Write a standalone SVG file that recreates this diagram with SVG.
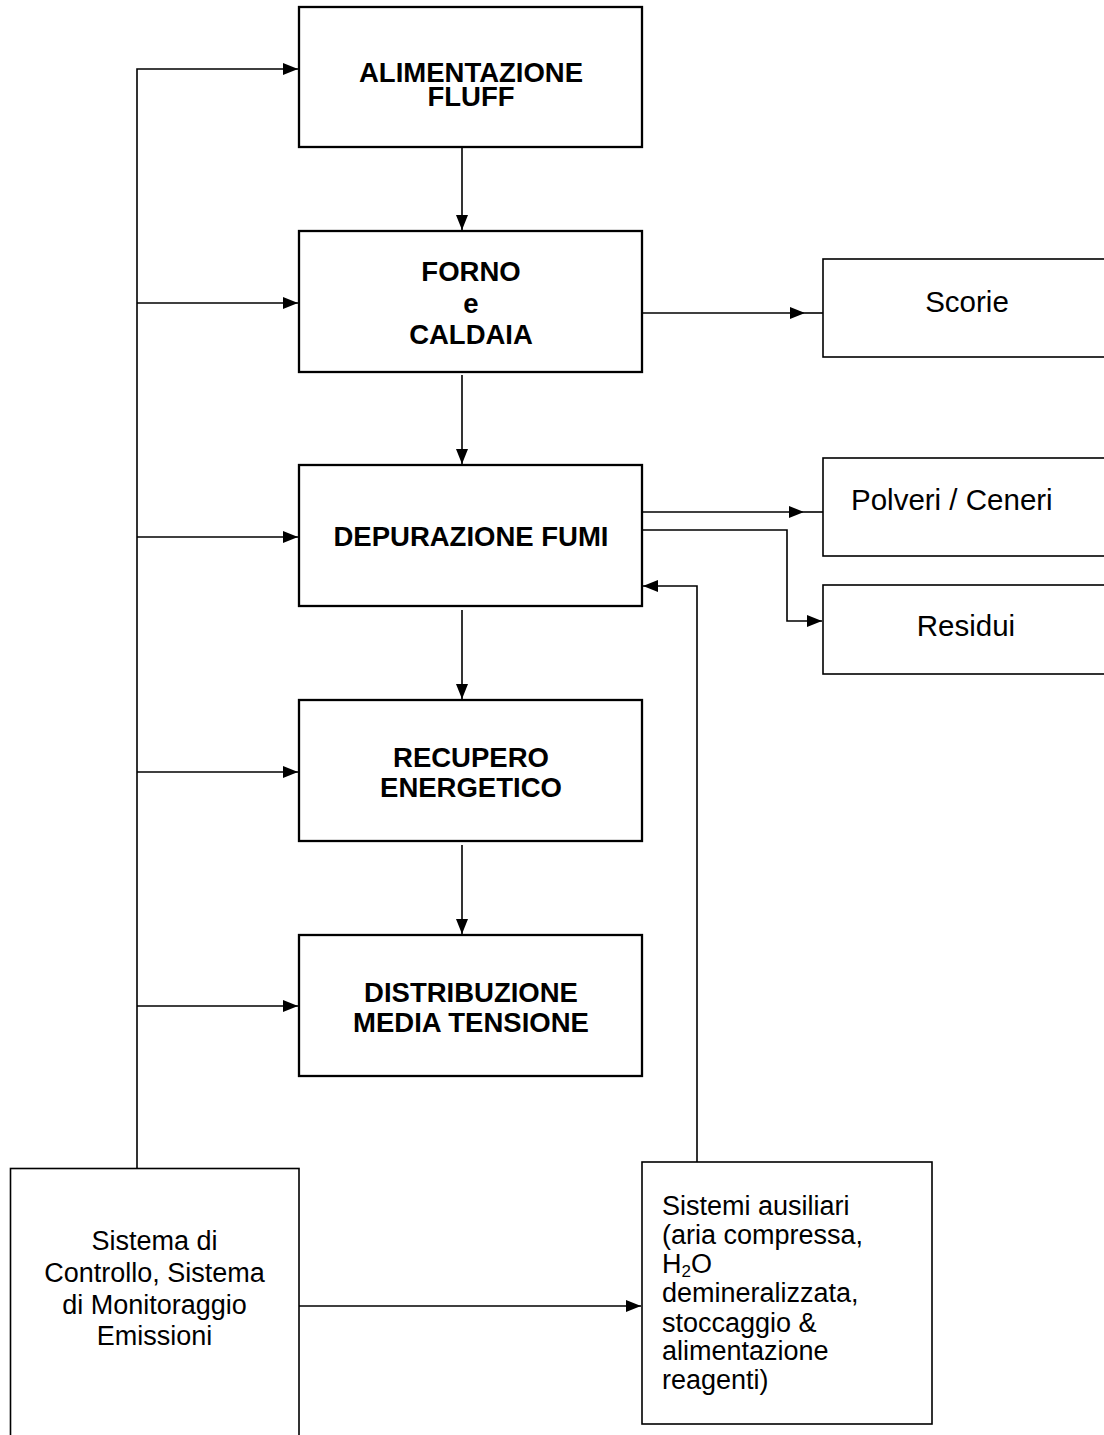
<svg xmlns="http://www.w3.org/2000/svg" width="1104" height="1435" viewBox="0 0 1104 1435">
<style>
.main{fill:#fff;stroke:#000;stroke-width:2.3}
.side{fill:#fff;stroke:#000;stroke-width:1.6}
.c{fill:none;stroke:#000;stroke-width:1.6}
.b{font-family:"Liberation Sans",Arial,sans-serif;font-weight:bold;font-size:27.5px;text-anchor:middle;fill:#000}
.r{font-family:"Liberation Sans",Arial,sans-serif;font-size:27px;fill:#000}
.rm{font-family:"Liberation Sans",Arial,sans-serif;font-size:29.5px;fill:#000;text-anchor:middle}
.rs{font-family:"Liberation Sans",Arial,sans-serif;font-size:29.5px;fill:#000;text-anchor:start}
</style>
<defs>
<marker id="ah" markerUnits="userSpaceOnUse" markerWidth="15" markerHeight="12" refX="15" refY="6" orient="auto">
<path d="M0,0 L15,6 L0,12 z" fill="#000"/>
</marker>
</defs>
<rect width="1104" height="1435" fill="#fff"/>
<g id="connectors">
<path class="c" d="M137,1168 L137,69 L298,69" marker-end="url(#ah)"/>
<path class="c" d="M137,303 L298,303" marker-end="url(#ah)"/>
<path class="c" d="M137,537 L298,537" marker-end="url(#ah)"/>
<path class="c" d="M137,772 L298,772" marker-end="url(#ah)"/>
<path class="c" d="M137,1006 L298,1006" marker-end="url(#ah)"/>
<path class="c" d="M462,141 L462,230" marker-end="url(#ah)"/>
<path class="c" d="M462,375 L462,464" marker-end="url(#ah)"/>
<path class="c" d="M462,610 L462,699" marker-end="url(#ah)"/>
<path class="c" d="M462,845 L462,934" marker-end="url(#ah)"/>
<path class="c" d="M642,313 L805,313" marker-end="url(#ah)"/>
<path class="c" d="M805,313 L823,313"/>
<path class="c" d="M642,512 L804,512" marker-end="url(#ah)"/>
<path class="c" d="M804,512 L823,512"/>
<path class="c" d="M642,530 L787,530 L787,621 L822,621" marker-end="url(#ah)"/>
<path class="c" d="M697,1162 L697,586 L643,586" marker-end="url(#ah)"/>
<path class="c" d="M299,1306 L641,1306" marker-end="url(#ah)"/>
</g>
<g id="alimentazione">
<rect class="main" x="299" y="7" width="343" height="140"/>
<text class="b" x="471" y="82">ALIMENTAZIONE</text>
<text class="b" x="471" y="106">FLUFF</text>
</g>
<g id="forno">
<rect class="main" x="299" y="231" width="343" height="141"/>
<text class="b" x="471" y="281">FORNO</text>
<text class="b" x="471" y="313">e</text>
<text class="b" x="471" y="344">CALDAIA</text>
</g>
<g id="depurazione">
<rect class="main" x="299" y="465" width="343" height="141"/>
<text class="b" x="471" y="546">DEPURAZIONE FUMI</text>
</g>
<g id="recupero">
<rect class="main" x="299" y="700" width="343" height="141"/>
<text class="b" x="471" y="767">RECUPERO</text>
<text class="b" x="471" y="797">ENERGETICO</text>
</g>
<g id="distribuzione">
<rect class="main" x="299" y="935" width="343" height="141"/>
<text class="b" x="471" y="1002">DISTRIBUZIONE</text>
<text class="b" x="471" y="1032">MEDIA TENSIONE</text>
</g>
<g id="scorie">
<rect class="side" x="823" y="259" width="290" height="98"/>
<text class="rm" x="967" y="312">Scorie</text>
</g>
<g id="polveri">
<rect class="side" x="823" y="458" width="290" height="98"/>
<text class="rs" x="851" y="510">Polveri / Ceneri</text>
</g>
<g id="residui">
<rect class="side" x="823" y="585" width="290" height="89"/>
<text class="rm" x="966" y="636">Residui</text>
</g>
<g id="controllo">
<rect class="side" x="10.5" y="1168.5" width="288.5" height="280"/>
<text class="r" x="154.5" y="1250" text-anchor="middle">Sistema di</text>
<text class="r" x="154.5" y="1282" text-anchor="middle">Controllo, Sistema</text>
<text class="r" x="154.5" y="1314" text-anchor="middle">di Monitoraggio</text>
<text class="r" x="154.5" y="1345" text-anchor="middle">Emissioni</text>
</g>
<g id="ausiliari">
<rect class="side" x="642" y="1162" width="290" height="262"/>
<text class="r" x="662" y="1215">Sistemi ausiliari</text>
<text class="r" x="662" y="1244">(aria compressa,</text>
<text class="r" x="662" y="1273">H<tspan font-size="17" dy="4">2</tspan><tspan dy="-4">O</tspan></text>
<text class="r" x="662" y="1302">demineralizzata,</text>
<text class="r" x="662" y="1332">stoccaggio &amp;</text>
<text class="r" x="662" y="1360">alimentazione</text>
<text class="r" x="662" y="1389">reagenti)</text>
</g>
</svg>
